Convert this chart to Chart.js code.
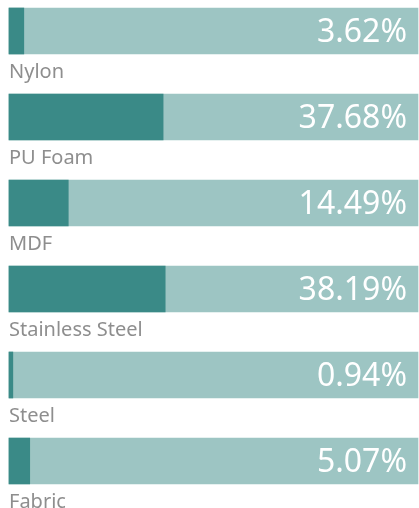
<!DOCTYPE html>
<html>
<head>
<meta charset="utf-8">
<script src="https://cdn.jsdelivr.net/npm/chart.js@4"></script>
<style>
  html, body { margin: 0; padding: 0; background: #fff; }
  #wrap { width: 419px; height: 508px; position: relative; }
</style>
</head>
<body>
<div id="wrap"><canvas id="materiales"></canvas></div>
<script>
const categorias = ["Nylon", "PU Foam", "MDF", "Stainless Steel", "Steel", "Fabric"];
const porcentajes = [3.62, 37.68, 14.49, 38.19, 0.94, 5.07];
const fondo = [100, 100, 100, 100, 100, 100];

// etiquetas: % dentro de la barra, nombre debajo
const etiquetas = {
  id: "etiquetas",
  afterDatasetsDraw(chart) {
    const ctx = chart.ctx;
    const barras = chart.getDatasetMeta(0).data;
    ctx.save();
    barras.forEach((b, i) => {
      const bottom = b.y + b.height / 2;
      ctx.fillStyle = "#ffffff";
      ctx.font = "400 32px 'Noto Sans'";
      ctx.textAlign = "right";
      ctx.textBaseline = "alphabetic";
      ctx.fillText(porcentajes[i].toFixed(2) + "%", 407, b.y + 11);

      ctx.fillStyle = "#8e8e8e";
      ctx.font = "400 20px 'Noto Sans'";
      ctx.textAlign = "left";
      ctx.fillText(categorias[i], chart.chartArea.left, bottom + 24);
    });
    ctx.restore();
  }
};

const ctx = document.getElementById("materiales").getContext("2d");
new Chart(ctx, {
  type: "bar",
  data: {
    labels: categorias,
    datasets: [
      {
        data: porcentajes,
        backgroundColor: "#3a8a87",
        barThickness: 46,
        clip: false,
        order: 0
      },
      {
        data: fondo,
        backgroundColor: "#9dc5c3",
        barThickness: 46,
        clip: false,
        order: 1
      }
    ]
  },
  options: {
    indexAxis: "y",
    responsive: true,
    maintainAspectRatio: false,
    animation: false,
    layout: { padding: { top: 31, bottom: 47, left: 9, right: 1 } },
    plugins: { legend: { display: false }, tooltip: { enabled: false } },
    scales: {
      x: { min: 0, max: 100, display: false },
      y: { display: false, offset: false, stacked: true }
    }
  },
  plugins: [etiquetas]
});
</script>
</body>
</html>
